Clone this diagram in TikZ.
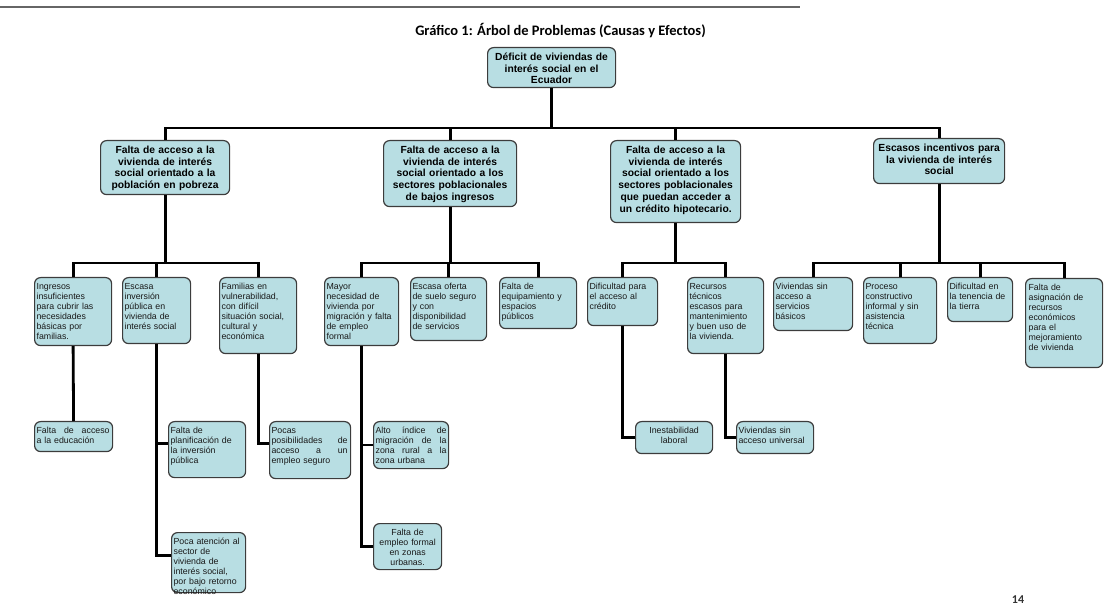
\documentclass[tikz,border=0pt]{standalone}
\usepackage{fontspec}
\setmainfont{Liberation Sans}
\newfontfamily\calibri{Carlito}
\usepackage{tikz}
\definecolor{celeste}{RGB}{184,222,227}
\definecolor{borde}{RGB}{60,60,60}
\newcommand{\just}[2]{\makebox[#1][s]{\spaceskip=0.25em plus 1fil\relax #2}}
\tikzset{
  caja/.style={draw=borde,fill=celeste,rounded corners=6pt,line width=1.2pt,
    inner sep=2pt,anchor=north west},
  probl/.style={caja,align=center,text height=11pt,
    font=\bfseries\fontsize{10.3}{11.7}\selectfont},
  causa/.style={caja,align=left,text height=9.5pt,text=black!90,
    font=\fontsize{8.8}{10}\selectfont},
  rama/.style={line width=2.8pt,black}
}
\begin{document}
\begin{tikzpicture}[x=1pt,y=-1pt]
\useasboundingbox (0,0) rectangle (1112,612);
\draw[line width=1.2pt,black!60] (0,7) -- (800,7);
\node[font=\calibri\fontsize{14.5}{16}\selectfont] (titulo) at (560.5,31)
  {\bfseries Gráfico 1: \bfseries Árbol de Problemas (Causas y Efectos)};
% problema central
\node[probl,text width=124pt,text depth=25pt] (raiz) at (487,47)
  {Déficit de viviendas de\\interés social en el\\Ecuador};
% causas principales
\node[probl,text width=125pt,text depth=39pt] (l1a) at (100,140)
  {Falta de acceso a la\\vivienda  de interés\\social orientado a la\\población en pobreza};
\node[probl,text width=129pt,text depth=51pt] (l1b) at (383,140)
  {Falta de acceso a la\\vivienda  de interés\\social orientado a los\\sectores poblacionales\\de bajos ingresos};
\node[probl,text width=126pt,text depth=67pt] (l1c) at (610,140)
  {Falta de acceso a la\\vivienda  de interés\\social orientado a los\\sectores poblacionales\\que puedan acceder a\\un crédito hipotecario.};
\node[probl,text width=127pt,text depth=30pt] (l1d) at (873,138)
  {Escasos incentivos para\\la vivienda de interés\\social};
% causas secundarias
\node[causa,text width=73pt,text depth=54.5pt] (a1) at (34,277)
  {Ingresos\\insuficientes\\para cubrir las\\necesidades\\básicas por\\familias.};
\node[causa,text width=64pt,text depth=52.5pt] (a2) at (122,277)
  {Escasa\\inversión\\pública en\\vivienda de\\interés social};
\node[causa,text width=73pt,text depth=62.5pt] (a3) at (219,277)
  {Familias en\\vulnerabilidad,\\con difícil\\situación social,\\cultural y\\económica};
\node[causa,text width=70pt,text depth=54.5pt] (b1) at (324,277)
  {Mayor\\necesidad de\\vivienda por\\migración y falta\\de empleo\\formal};
\node[causa,text width=72pt,text depth=49.5pt] (b2) at (410,277)
  {Escasa oferta\\de suelo seguro\\y con\\disponibilidad\\de servicios};
\node[causa,text width=73pt,text depth=37.5pt] (b3) at (499,277)
  {Falta de\\equipamiento y\\espacios\\públicos};
\node[causa,text width=66pt,text depth=34.5pt] (c1) at (587,277)
  {Dificultad para\\el acceso al\\crédito};
\node[causa,text width=72pt,text depth=62.5pt] (c2) at (687,277)
  {Recursos\\técnicos\\escasos para\\mantenimiento\\y buen uso de\\la vivienda.};
\node[causa,text width=75pt,text depth=39.5pt] (d1) at (773,277)
  {Viviendas sin\\acceso a\\servicios\\básicos};
\node[causa,text width=69pt,text depth=52.5pt] (d2) at (863,277)
  {Proceso\\constructivo\\informal y sin\\asistencia\\técnica};
\node[causa,text width=61pt,text depth=30.5pt] (d3) at (947,277)
  {Dificultad en\\la tenencia de\\la tierra};
\node[causa,text width=71pt,text depth=75.5pt,inner xsep=3pt] (d4) at (1025,278)
  {Falta de\\asignación de\\recursos\\económicos\\para el\\mejoramiento\\ de  vivienda};
% tercer nivel
\node[causa,text width=74pt,text depth=16.5pt] (e1) at (34,421)
  {\just{73pt}{Falta de acceso}\\a la educación};
\node[causa,text width=73pt,text depth=42.5pt] (f1) at (168,421)
  {Falta de\\planificación de\\la inversión\\pública};
\node[causa,text width=70pt,text depth=46.5pt] (f2) at (171,532)
  {Poca atención al\\sector de\\vivienda de\\interés social,\\por bajo retorno\\económico};
\node[causa,text width=77pt,text depth=43.5pt] (g1) at (269,421)
  {Pocas\\\just{76pt}{posibilidades de}\\\just{76pt}{acceso a un}\\empleo seguro};
\node[causa,text width=71pt,text depth=33.5pt] (h1) at (373,421)
  {\just{71pt}{Alto índice de}\\\just{71pt}{migración de la}\\\just{71pt}{zona rural a la}\\zona urbana};
\node[causa,align=center,text width=64pt,text depth=32.5pt] (h2) at (373,523)
  {Falta de\\empleo formal\\en zonas\\urbanas.};
\node[causa,align=center,text width=73pt,text depth=18.5pt] (i1) at (635,421)
  {Inestabilidad\\laboral};
\node[causa,text width=73pt,text depth=18.5pt] (j1) at (736,421)
  {Viviendas sin\\acceso universal};
\node[font=\calibri\bfseries\fontsize{12}{14}\selectfont,text=black!80] (pagina) at (1018,600) {14};
% ramas del arbol
\draw[rama] (raiz.south) -- (raiz.south |- 0,128);
\draw[rama] (l1a.north) |- (l1d.north |- 0,128) -- (l1d.north);
\draw[rama] (l1b.north) -- (l1b.north |- 0,128);
\draw[rama] (l1c.north) -- (l1c.north |- 0,128);
\draw[rama] (l1a.south) -- (l1a.south |- 0,263);
\draw[rama] (a1.north) |- (a3.north |- 0,263) -- (a3.north);
\draw[rama] (a2.north) -- (a2.north |- 0,263);
\draw[rama] (l1b.south) -- (l1b.south |- 0,263);
\draw[rama] (b1.north) |- (b3.north |- 0,263) -- (b3.north);
\draw[rama] (b2.north) -- (b2.north |- 0,263);
\draw[rama] (l1c.south) -- (l1c.south |- 0,263);
\draw[rama] (c1.north) |- (c2.north |- 0,263) -- (c2.north);
\draw[rama] (l1d.south) -- (l1d.south |- 0,263);
\draw[rama] (d1.north) |- (d4.north |- 0,263) -- (d4.north);
\draw[rama] (d2.north) -- (d2.north |- 0,263);
\draw[rama] (d3.north) -- (d3.north |- 0,263);
\draw[rama] (a1.south) -- (e1.north);
\draw[rama] (a2.south) |- ([yshift=7pt]f2.west);
\draw[rama] ([yshift=6pt]f1.west) -| (a2.south);
\draw[rama] (a3.south) |- ([yshift=6.5pt]g1.west);
\draw[rama] (b1.south) |- (h2.west);
\draw[rama] (h1.west) -| (b1.south);
\draw[rama] (c1.south) |- (i1.west);
\draw[rama] (c2.south) |- (j1.west);
\end{tikzpicture}
\end{document}
